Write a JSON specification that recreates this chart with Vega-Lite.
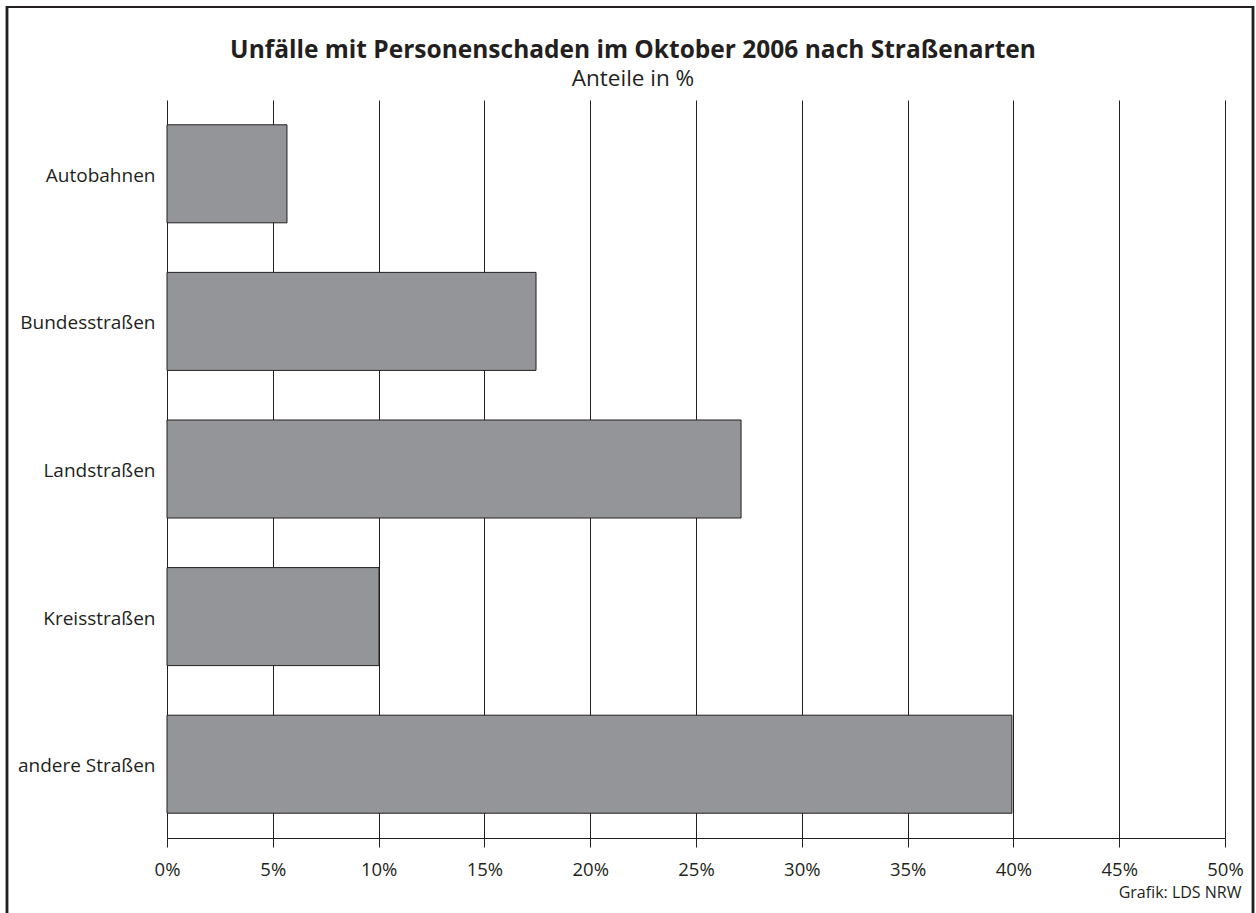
{
  "$schema": "https://vega.github.io/schema/vega-lite/v6.json",
  "autosize": {"type": "none"},
  "width": 1058,
  "height": 738,
  "padding": {"left": 167, "top": 100, "right": 31, "bottom": 75},
  "background": "white",
  "config": {
    "view": {"stroke": null},
    "font": "Open Sans",
    "axis": {"labelFont": "Open Sans", "titleFont": "Open Sans", "labelColor": "#231f20"}
  },
  "title": {
    "text": "Unfälle mit Personenschaden im Oktober 2006 nach Straßenarten",
    "subtitle": "Anteile in %",
    "anchor": "middle",
    "frame": "group",
    "dx": -63,
    "offset": -86,
    "font": "Open Sans",
    "fontSize": 24.5,
    "fontWeight": "bold",
    "color": "#231f20",
    "subtitleFont": "Open Sans",
    "subtitleFontSize": 22.5,
    "subtitleColor": "#231f20",
    "subtitlePadding": 5
  },
  "data": {
    "values": [
      {"Straßenart": "Autobahnen", "Anteil": 5.67},
      {"Straßenart": "Bundesstraßen", "Anteil": 17.44},
      {"Straßenart": "Landstraßen", "Anteil": 27.13},
      {"Straßenart": "Kreisstraßen", "Anteil": 10.02},
      {"Straßenart": "andere Straßen", "Anteil": 39.93}
    ]
  },
  "layer": [
    {
      "mark": {"type": "rect", "fill": null, "stroke": "#231f20", "strokeWidth": 2.2},
      "encoding": {
        "x": {"value": -160},
        "x2": {"value": 1086},
        "y": {"value": -93},
        "y2": {"value": 830}
      }
    },
    {
      "mark": {"type": "bar", "fill": "#939598", "stroke": "#231f20", "strokeWidth": 1},
      "encoding": {
        "y": {
          "field": "Straßenart",
          "type": "nominal",
          "sort": null,
          "scale": {"paddingInner": 0.336, "paddingOuter": 0.168},
          "axis": {
            "title": null,
            "domain": false,
            "ticks": false,
            "labelFontSize": 19,
            "labelPadding": 12,
            "labelOffset": 2
          }
        },
        "x": {
          "field": "Anteil",
          "type": "quantitative",
          "scale": {"domain": [0, 50], "nice": false},
          "axis": {
            "values": [0, 5, 10, 15, 20, 25, 30, 35, 40, 45, 50],
            "labelExpr": "datum.value + '%'",
            "labelFontSize": 18.5,
            "labelPadding": 13,
            "labelFlush": false,
            "domainColor": "#231f20",
            "domainWidth": 1,
            "tickColor": "#231f20",
            "tickSize": 9,
            "tickWidth": 1,
            "grid": true,
            "gridColor": "#231f20",
            "gridWidth": 1,
            "gridOpacity": 1,
            "title": "Grafik: LDS NRW",
            "titleFontSize": 16,
            "titleFontWeight": "normal",
            "titleColor": "#231f20",
            "titleAlign": "right",
            "titleBaseline": "alphabetic",
            "titleAnchor": null,
            "titleX": 1074,
            "titleY": 59
          }
        }
      }
    }
  ]
}
